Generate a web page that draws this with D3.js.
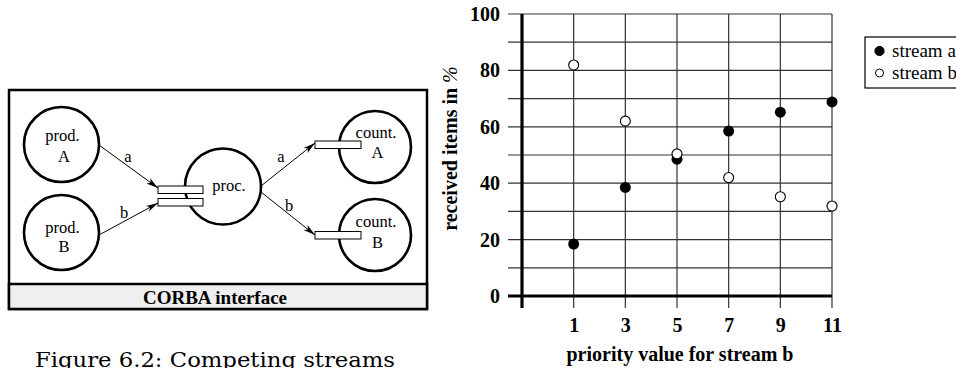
<!DOCTYPE html>
<html>
<head>
<meta charset="utf-8">
<script src="https://cdn.jsdelivr.net/npm/d3@7"></script>
<style>
  body { margin: 0; background: #fff; }
  svg { display: block; }
</style>
</head>
<body>
<div id="fig"></div>
<script>
// DATA
////////////////////////////
var priorities = [1, 3, 5, 7, 9, 11];                  // priority value for stream b
var streamA = [18.4, 38.5, 48.5, 58.5, 65.2, 68.8];     // received items in %, stream a
var streamB = [81.9, 62.0, 50.4, 42.0, 35.2, 31.9];     // received items in %, stream b
var yTicks = [0, 20, 40, 60, 80, 100];
var yGrid = [10, 20, 30, 40, 50, 60, 70, 80, 90, 100];
var seriesNames = ["stream a", "stream b"];

// diagram (left): nodes + streams
var nodes = [
  {id: "prodA", l1: "prod.", l2: "A"},
  {id: "prodB", l1: "prod.", l2: "B"},
  {id: "proc",  l1: "proc.", l2: ""},
  {id: "countA", l1: "count.", l2: "A"},
  {id: "countB", l1: "count.", l2: "B"}
];
var links = [
  {from: "prodA", to: "port1", label: "a"},
  {from: "prodB", to: "port2", label: "b"},
  {from: "procA", to: "portA", label: "a"},
  {from: "procB", to: "portB", label: "b"}
];

// SETUP
////////////////////////////
var width = 956, height = 368;
var serif = "'Liberation Serif', 'Times New Roman', serif";

var svg = d3.select("#fig").append("svg")
    .attr("width", width)
    .attr("height", height)
    .style("font-family", serif);

// --- left: the CORBA diagram ---
// layout (pixel spots)
var pos = {
  prodA: [61.5, 144.5], prodB: [61.5, 232.5], proc: [223, 186.5],
  countA: [375, 147], countB: [375, 235]
};
var radius = {prodA: 37.5, prodB: 37.5, proc: 38, countA: 36, countB: 36};
var labelY = {
  prodA: [141, 162], prodB: [233, 252], proc: [191, 0],
  countA: [138, 158], countB: [227, 248]
};
var ends = {
  prodA: [99, 145], prodB: [99, 235], procA: [261, 186], procB: [261, 192],
  port1: [158, 188], port2: [158, 203], portA: [315, 143], portB: [315, 235]
};
var linkLabel = [[128, 162], [124, 218], [281, 162], [289, 211]];

svg.append("defs").append("marker")
    .attr("id", "arr")
    .attr("markerUnits", "userSpaceOnUse")
    .attr("viewBox", "0 0 12 8")
    .attr("refX", 12).attr("refY", 4)
    .attr("markerWidth", 12).attr("markerHeight", 8)
    .attr("orient", "auto")
  .append("path")
    .attr("d", "M0,0.8 L12,4 L0,7.2 L3,4 Z")
    .attr("fill", "#000");

var dg = svg.append("g").attr("class", "diagram");

// outer frame + interface band
dg.append("rect")
    .attr("x", 9).attr("y", 90).attr("width", 418).attr("height", 219)
    .attr("fill", "#fff").attr("stroke", "#000").attr("stroke-width", 2.5);
dg.append("rect")
    .attr("x", 9).attr("y", 284).attr("width", 418).attr("height", 25)
    .attr("fill", "#efefef").attr("stroke", "#000").attr("stroke-width", 2.5);
dg.append("text")
    .attr("x", 215).attr("y", 303.5)
    .attr("text-anchor", "middle")
    .attr("font-size", 19).attr("font-weight", "bold")
    .text("CORBA interface");

// circles
dg.selectAll("circle.node")
  .data(nodes)
  .enter().append("circle")
    .attr("class", "node")
    .attr("cx", function(d) { return pos[d.id][0]; })
    .attr("cy", function(d) { return pos[d.id][1]; })
    .attr("r", function(d) { return radius[d.id]; })
    .attr("fill", "none").attr("stroke", "#000").attr("stroke-width", 2.6);

dg.selectAll("text.l1")
  .data(nodes)
  .enter().append("text")
    .attr("class", "l1")
    .attr("x", function(d) { return d.id == "proc" ? 229 : pos[d.id][0] + 1; })
    .attr("y", function(d) { return labelY[d.id][0]; })
    .attr("text-anchor", "middle").attr("font-size", 16.5)
    .text(function(d) { return d.l1; });

dg.selectAll("text.l2")
  .data(nodes.filter(function(d) { return d.l2; }))
  .enter().append("text")
    .attr("class", "l2")
    .attr("x", function(d) { return pos[d.id][0] + 2.5; })
    .attr("y", function(d) { return labelY[d.id][1]; })
    .attr("text-anchor", "middle").attr("font-size", 16.5)
    .text(function(d) { return d.l2; });

// ports (white boxes laid over the circle edges)
var ports = [[158, 186, 45, 7.5], [158, 198.5, 45, 7.5], [315, 141, 46, 7.5], [315, 231.5, 46, 7.5]];
dg.selectAll("rect.port")
  .data(ports)
  .enter().append("rect")
    .attr("class", "port")
    .attr("x", function(d) { return d[0]; }).attr("y", function(d) { return d[1]; })
    .attr("width", function(d) { return d[2]; }).attr("height", function(d) { return d[3]; })
    .attr("fill", "#fff").attr("stroke", "#000").attr("stroke-width", 1);

// streams
dg.selectAll("line.link")
  .data(links)
  .enter().append("line")
    .attr("class", "link")
    .attr("x1", function(d) { return ends[d.from][0]; })
    .attr("y1", function(d) { return ends[d.from][1]; })
    .attr("x2", function(d) { return ends[d.to][0]; })
    .attr("y2", function(d) { return ends[d.to][1]; })
    .attr("stroke", "#000").attr("stroke-width", 1)
    .attr("marker-end", "url(#arr)");

dg.selectAll("text.link")
  .data(links)
  .enter().append("text")
    .attr("class", "link")
    .attr("x", function(d, i) { return linkLabel[i][0]; })
    .attr("y", function(d, i) { return linkLabel[i][1]; })
    .attr("text-anchor", "middle").attr("font-size", 16.5)
    .text(function(d) { return d.label; });

// --- right: the scatter plot ---
var x = d3.scaleLinear().domain([-1, 11]).range([522, 832]);
var y = d3.scaleLinear().domain([0, 100]).range([296, 14]);
var gridLeft = 508, gridBottom = 308;

var plot = svg.append("g").attr("class", "plot");

// horizontal grid
plot.selectAll("line.hgrid")
  .data(yGrid)
  .enter().append("line")
    .attr("class", "hgrid")
    .attr("x1", gridLeft).attr("x2", x(11))
    .attr("y1", function(d) { return y(d); }).attr("y2", function(d) { return y(d); })
    .attr("stroke", "#333").attr("stroke-width", 1.2);

// vertical grid
plot.selectAll("line.vgrid")
  .data(priorities)
  .enter().append("line")
    .attr("class", "vgrid")
    .attr("x1", function(d) { return x(d); }).attr("x2", function(d) { return x(d); })
    .attr("y1", y(100)).attr("y2", gridBottom)
    .attr("stroke", "#333").attr("stroke-width", 1.2);

// axes lines (thick)
plot.append("line")
    .attr("x1", gridLeft).attr("x2", x(11))
    .attr("y1", y(0)).attr("y2", y(0))
    .attr("stroke", "#000").attr("stroke-width", 3.2);
plot.append("line")
    .attr("x1", x(-1)).attr("x2", x(-1))
    .attr("y1", y(100)).attr("y2", gridBottom)
    .attr("stroke", "#000").attr("stroke-width", 3.2);

// tick labels via d3 axes
var yAxis = d3.axisLeft(y).tickValues(yTicks).tickSize(0).tickPadding(0);
plot.append("g")
    .attr("transform", "translate(500,0)")
    .call(yAxis)
    .call(function(g) { g.select(".domain").remove(); })
    .selectAll("text")
      .attr("font-size", 20)
      .attr("font-weight", "bold").attr("fill", "#000");

var xAxis = d3.axisBottom(x).tickValues(priorities).tickSize(0).tickPadding(0);
plot.append("g")
    .attr("transform", "translate(0,318)")
    .call(xAxis)
    .call(function(g) { g.select(".domain").remove(); })
    .selectAll("text")
      .attr("font-size", 20)
      .attr("font-weight", "bold").attr("fill", "#000");

// axis titles
plot.append("text")
    .attr("x", 680).attr("y", 361)
    .attr("text-anchor", "middle")
    .attr("font-size", 20).attr("font-weight", "bold")
    .text("priority value for stream b");

var yt = plot.append("text")
    .attr("transform", "translate(457,148.5) rotate(-90)")
    .attr("text-anchor", "middle")
    .attr("font-size", 20).attr("font-weight", "bold");
yt.append("tspan").text("received items in ");
yt.append("tspan").attr("font-weight", "normal").attr("font-style", "italic").text("%");

// points
plot.selectAll("circle.a")
  .data(streamA)
  .enter().append("circle")
    .attr("class", "a")
    .attr("cx", function(d, i) { return x(priorities[i]); })
    .attr("cy", function(d) { return y(d); })
    .attr("r", 5.5)
    .attr("fill", "#000");

plot.selectAll("circle.b")
  .data(streamB)
  .enter().append("circle")
    .attr("class", "b")
    .attr("cx", function(d, i) { return x(priorities[i]); })
    .attr("cy", function(d) { return y(d); })
    .attr("r", 5)
    .attr("fill", "#fff").attr("stroke", "#000").attr("stroke-width", 1.1);

// legend (runs off the right edge)
var legend = svg.append("g").attr("class", "legend");
legend.append("rect")
    .attr("x", 865).attr("y", 37).attr("width", 120).attr("height", 51)
    .attr("fill", "#fff").attr("stroke", "#000").attr("stroke-width", 1.2);

var li = legend.selectAll("g.item")
  .data(seriesNames)
  .enter().append("g")
    .attr("class", "item")
    .attr("transform", function(d, i) { return "translate(0," + (51 + i * 22) + ")"; });
li.append("circle")
    .attr("cx", 879.5).attr("cy", 0)
    .attr("r", function(d, i) { return i == 0 ? 4.6 : 4; })
    .attr("fill", function(d, i) { return i == 0 ? "#000" : "#fff"; })
    .attr("stroke", "#000").attr("stroke-width", 1);
li.append("text")
    .attr("x", 892).attr("y", 5.5)
    .attr("font-size", 19)
    .text(function(d) { return d; });

// every label in Times-like serif (axis groups default to sans-serif)
svg.selectAll("text").style("font-family", serif).style("fill", "#000");

// caption (sits on the bottom edge like the scan)
svg.append("text")
    .attr("x", 35).attr("y", 367)
    .attr("font-size", 20)
    .attr("textLength", 360).attr("lengthAdjust", "spacingAndGlyphs")
    .style("font-family", "'DejaVu Serif', serif")
    .text("Figure 6.2: Competing streams");
</script>
</body>
</html>
